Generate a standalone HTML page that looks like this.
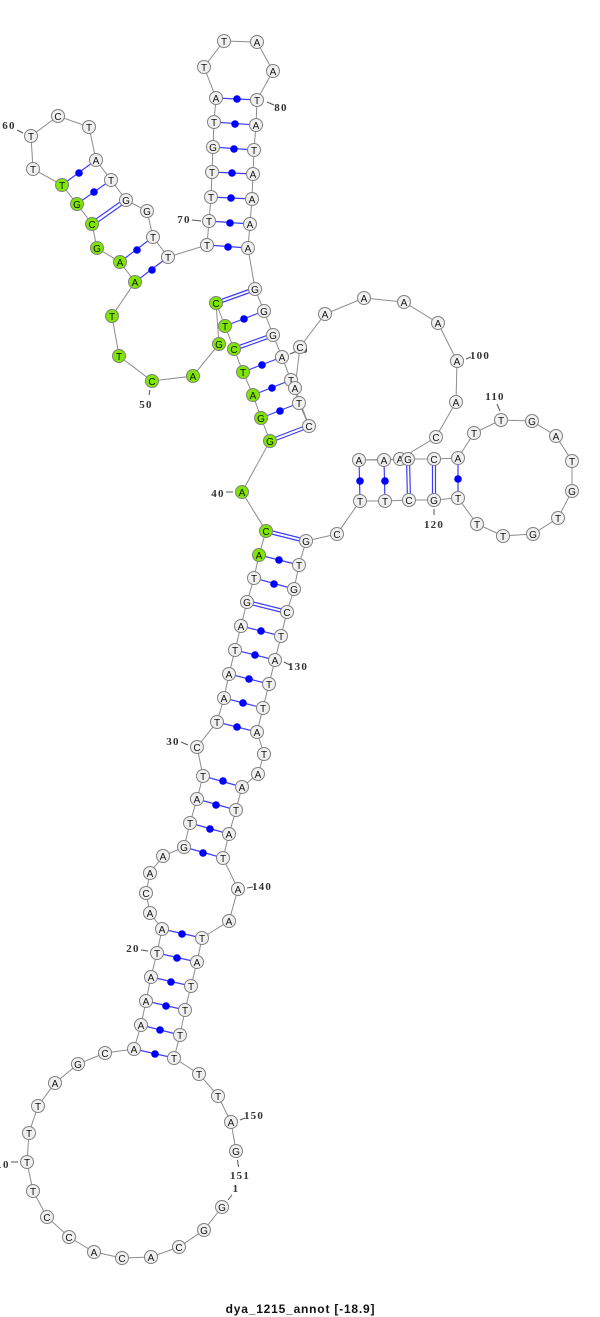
<!DOCTYPE html>
<html><head><meta charset="utf-8"><style>
html,body{margin:0;padding:0;background:#fff}
svg{display:block}
.b{fill:none;stroke:#8c8c8c;stroke-width:1}
.p{stroke:#3d3dff;stroke-width:1.2;fill:none}
.d{fill:#0000ff}
.n circle{fill:#f0f0f0;stroke:#808080;stroke-width:1}
.n circle.g{fill:#7fe600}
.n text{font:10px "Liberation Sans",sans-serif;text-anchor:middle;fill:#111}
.l text{font:bold 11px "Liberation Serif",serif;letter-spacing:1.2px;text-anchor:middle;fill:#333}
.t{stroke:#555;stroke-width:1}
.title{font:bold 12px "Liberation Sans",sans-serif;text-anchor:middle;fill:#111;letter-spacing:.8px}
</style></head><body>
<svg width="600" height="1317" viewBox="0 0 600 1317" xmlns="http://www.w3.org/2000/svg">
<polyline class="b" points="222,1207 204,1230 179,1247 151,1257 122,1258 94,1252 69,1237 47,1217 33,1191 27,1162 29,1133 38,1106 55,1083 78,1064 105,1053 134,1049 141,1025 146,1001 151,977 157,953 162,929 150,913 146,893 150,873 163,856 184,847 190,823 197,799 203,776 197,747 217,722 224,698 229,674 235,650 241,626 247,602 254,578 259,555 266,531 242,492 270,441 261,418 253,395 243,372 234,349 225,326 216,303 219,344 193,376 152,381 119,356 112,316 135,282 120,262 97,248 92,224 77,204 62,185 33,169 31,136 58,116 89,127 96,160 111,180 126,200 147,211 153,237 168,257 207,245 209,221 211,197 212,172 213,147 214,122 216,98 204,67 224,41 257,42 273,71 257,100 256,125 254,150 253,174 252,199 250,224 248,248 255,289 264,311 273,335 282,357 291,380 299,403 309,426 295,388 300,347 325,314 364,298 404,302 438,323 457,361 456,402 436,437 400,459 359,460 384,460 408,459 434,459 458,458 474,433 501,420 532,421 556,436 572,461 572,491 558,518 533,534 503,536 477,524 458,498 434,500 409,500 385,501 360,501 337,534 306,541 299,565 294,589 287,612 281,636 275,660 269,684 263,708 257,732 264,754 258,774 242,787 236,810 229,834 223,858 238,889 229,921 202,938 197,962 191,986 185,1010 180,1035 174,1058 199,1074 218,1096 231,1122 236,1151"/>
<g class="p">
<path d="M134,1049L174,1058M141,1025L180,1035M146,1001L185,1010M151,977L191,986M157,953L197,962M162,929L202,938M184,847L223,858M190,823L229,834M197,799L236,810M203,776L242,787M217,722L257,732M224,698L263,708M229,674L269,684M235,650L275,660M241,626L281,636M254,578L294,589M259,555L299,565"/>
<path d="M247.5,600.5L287.5,610.5M246.5,603.5L286.5,613.5M266.5,529.5L306.5,539.5M265.5,532.5L305.5,542.5"/>
<path d="M261,418L299,403M253,395L291,380M243,372L282,357M225,326L264,311"/>
<path d="M269.5,439.5L308.5,424.5M270.5,442.5L309.5,427.5M233.5,347.5L272.5,333.5M234.5,350.5L273.5,336.5M215.5,301.5L254.5,287.5M216.5,304.5L255.5,290.5"/>
<path d="M135,282L168,257M120,262L153,237M77,204L111,180M62,185L96,160"/>
<path d="M91,222.5L125,198.5M93,225.5L127,201.5"/>
<path d="M207,245L248,248M209,221L250,224M211,197L252,199M212,172L253,174M213,147L254,150M214,122L256,125M216,98L257,100"/>
<path d="M359,460L360,501M384,460L385,501M458,458L458,498"/>
<path d="M406.5,459L407.5,500M409.5,459L410.5,500M432.5,459L432.5,500M435.5,459L435.5,500"/>
</g>
<g class="d">
<circle cx="155" cy="1054" r="3.8"/><circle cx="160" cy="1030" r="3.8"/><circle cx="166" cy="1006" r="3.8"/><circle cx="171" cy="982" r="3.8"/><circle cx="177" cy="958" r="3.8"/><circle cx="182" cy="934" r="3.8"/>
<circle cx="203" cy="853" r="3.8"/><circle cx="210" cy="829" r="3.8"/><circle cx="216" cy="805" r="3.8"/><circle cx="223" cy="781" r="3.8"/>
<circle cx="237" cy="727" r="3.8"/><circle cx="243" cy="703" r="3.8"/><circle cx="249" cy="679" r="3.8"/><circle cx="255" cy="655" r="3.8"/><circle cx="261" cy="631" r="3.8"/><circle cx="274" cy="584" r="3.8"/><circle cx="279" cy="560" r="3.8"/>
<circle cx="280" cy="411" r="3.8"/><circle cx="272" cy="388" r="3.8"/><circle cx="262" cy="365" r="3.8"/><circle cx="244" cy="319" r="3.8"/>
<circle cx="152" cy="270" r="3.8"/><circle cx="137" cy="250" r="3.8"/><circle cx="94" cy="192" r="3.8"/><circle cx="79" cy="173" r="3.8"/>
<circle cx="228" cy="247" r="3.8"/><circle cx="230" cy="223" r="3.8"/><circle cx="231" cy="198" r="3.8"/><circle cx="232" cy="173" r="3.8"/><circle cx="234" cy="149" r="3.8"/><circle cx="235" cy="124" r="3.8"/><circle cx="237" cy="99" r="3.8"/>
<circle cx="360" cy="481" r="3.8"/><circle cx="385" cy="481" r="3.8"/><circle cx="458" cy="479" r="3.8"/>
</g>
<g class="l">
<path class="t" d="M17,130L23,133M192,220L201,221M267,102L274,105M290,354L297,351M466,359L471,357M497,404L500,411M434,509L434,515M284,662L290,665M247,888L253,887M240,1120L245,1118M237.5,1160L238.5,1167M232,1195L228,1200M150,390L149,395M226,492L233,492M181,742L188,745M141,950L148,951M11,1162L18,1162"/>
<text x="9" y="129">60</text><text x="184" y="223">70</text><text x="281" y="111">80</text><text x="302" y="353">90</text><text x="480" y="359">100</text><text x="495" y="400">110</text><text x="434" y="528">120</text><text x="298" y="670">130</text><text x="262" y="890">140</text><text x="254" y="1119">150</text><text x="240" y="1179">151</text><text x="236" y="1192">1</text><text x="146" y="408">50</text><text x="218" y="497">40</text><text x="173" y="745">30</text><text x="133" y="952">20</text><text x="3" y="1168">10</text>
</g>
<g class="n">
<circle cx="222" cy="1207" r="6.5"/><text x="222" y="1211">G</text>
<circle cx="204" cy="1230" r="6.5"/><text x="204" y="1234">G</text>
<circle cx="179" cy="1247" r="6.5"/><text x="179" y="1251">C</text>
<circle cx="151" cy="1257" r="6.5"/><text x="151" y="1261">A</text>
<circle cx="122" cy="1258" r="6.5"/><text x="122" y="1262">C</text>
<circle cx="94" cy="1252" r="6.5"/><text x="94" y="1256">A</text>
<circle cx="69" cy="1237" r="6.5"/><text x="69" y="1241">C</text>
<circle cx="47" cy="1217" r="6.5"/><text x="47" y="1221">C</text>
<circle cx="33" cy="1191" r="6.5"/><text x="33" y="1195">T</text>
<circle cx="27" cy="1162" r="6.5"/><text x="27" y="1166">T</text>
<circle cx="29" cy="1133" r="6.5"/><text x="29" y="1137">T</text>
<circle cx="38" cy="1106" r="6.5"/><text x="38" y="1110">T</text>
<circle cx="55" cy="1083" r="6.5"/><text x="55" y="1087">A</text>
<circle cx="78" cy="1064" r="6.5"/><text x="78" y="1068">G</text>
<circle cx="105" cy="1053" r="6.5"/><text x="105" y="1057">C</text>
<circle cx="134" cy="1049" r="6.5"/><text x="134" y="1053">A</text>
<circle cx="141" cy="1025" r="6.5"/><text x="141" y="1029">A</text>
<circle cx="146" cy="1001" r="6.5"/><text x="146" y="1005">A</text>
<circle cx="151" cy="977" r="6.5"/><text x="151" y="981">A</text>
<circle cx="157" cy="953" r="6.5"/><text x="157" y="957">T</text>
<circle cx="162" cy="929" r="6.5"/><text x="162" y="933">A</text>
<circle cx="150" cy="913" r="6.5"/><text x="150" y="917">A</text>
<circle cx="146" cy="893" r="6.5"/><text x="146" y="897">C</text>
<circle cx="150" cy="873" r="6.5"/><text x="150" y="877">A</text>
<circle cx="163" cy="856" r="6.5"/><text x="163" y="860">A</text>
<circle cx="184" cy="847" r="6.5"/><text x="184" y="851">G</text>
<circle cx="190" cy="823" r="6.5"/><text x="190" y="827">T</text>
<circle cx="197" cy="799" r="6.5"/><text x="197" y="803">A</text>
<circle cx="203" cy="776" r="6.5"/><text x="203" y="780">T</text>
<circle cx="197" cy="747" r="6.5"/><text x="197" y="751">C</text>
<circle cx="217" cy="722" r="6.5"/><text x="217" y="726">T</text>
<circle cx="224" cy="698" r="6.5"/><text x="224" y="702">A</text>
<circle cx="229" cy="674" r="6.5"/><text x="229" y="678">A</text>
<circle cx="235" cy="650" r="6.5"/><text x="235" y="654">T</text>
<circle cx="241" cy="626" r="6.5"/><text x="241" y="630">A</text>
<circle cx="247" cy="602" r="6.5"/><text x="247" y="606">G</text>
<circle cx="254" cy="578" r="6.5"/><text x="254" y="582">T</text>
<circle class="g" cx="259" cy="555" r="6.5"/><text x="259" y="559">A</text>
<circle class="g" cx="266" cy="531" r="6.5"/><text x="266" y="535">C</text>
<circle class="g" cx="242" cy="492" r="6.5"/><text x="242" y="496">A</text>
<circle class="g" cx="270" cy="441" r="6.5"/><text x="270" y="445">G</text>
<circle class="g" cx="261" cy="418" r="6.5"/><text x="261" y="422">G</text>
<circle class="g" cx="253" cy="395" r="6.5"/><text x="253" y="399">A</text>
<circle class="g" cx="243" cy="372" r="6.5"/><text x="243" y="376">T</text>
<circle class="g" cx="234" cy="349" r="6.5"/><text x="234" y="353">C</text>
<circle class="g" cx="225" cy="326" r="6.5"/><text x="225" y="330">T</text>
<circle class="g" cx="216" cy="303" r="6.5"/><text x="216" y="307">C</text>
<circle class="g" cx="219" cy="344" r="6.5"/><text x="219" y="348">G</text>
<circle class="g" cx="193" cy="376" r="6.5"/><text x="193" y="380">A</text>
<circle class="g" cx="152" cy="381" r="6.5"/><text x="152" y="385">C</text>
<circle class="g" cx="119" cy="356" r="6.5"/><text x="119" y="360">T</text>
<circle class="g" cx="112" cy="316" r="6.5"/><text x="112" y="320">T</text>
<circle class="g" cx="135" cy="282" r="6.5"/><text x="135" y="286">A</text>
<circle class="g" cx="120" cy="262" r="6.5"/><text x="120" y="266">A</text>
<circle class="g" cx="97" cy="248" r="6.5"/><text x="97" y="252">G</text>
<circle class="g" cx="92" cy="224" r="6.5"/><text x="92" y="228">C</text>
<circle class="g" cx="77" cy="204" r="6.5"/><text x="77" y="208">G</text>
<circle class="g" cx="62" cy="185" r="6.5"/><text x="62" y="189">T</text>
<circle cx="33" cy="169" r="6.5"/><text x="33" y="173">T</text>
<circle cx="31" cy="136" r="6.5"/><text x="31" y="140">T</text>
<circle cx="58" cy="116" r="6.5"/><text x="58" y="120">C</text>
<circle cx="89" cy="127" r="6.5"/><text x="89" y="131">T</text>
<circle cx="96" cy="160" r="6.5"/><text x="96" y="164">A</text>
<circle cx="111" cy="180" r="6.5"/><text x="111" y="184">T</text>
<circle cx="126" cy="200" r="6.5"/><text x="126" y="204">G</text>
<circle cx="147" cy="211" r="6.5"/><text x="147" y="215">G</text>
<circle cx="153" cy="237" r="6.5"/><text x="153" y="241">T</text>
<circle cx="168" cy="257" r="6.5"/><text x="168" y="261">T</text>
<circle cx="207" cy="245" r="6.5"/><text x="207" y="249">T</text>
<circle cx="209" cy="221" r="6.5"/><text x="209" y="225">T</text>
<circle cx="211" cy="197" r="6.5"/><text x="211" y="201">T</text>
<circle cx="212" cy="172" r="6.5"/><text x="212" y="176">T</text>
<circle cx="213" cy="147" r="6.5"/><text x="213" y="151">G</text>
<circle cx="214" cy="122" r="6.5"/><text x="214" y="126">T</text>
<circle cx="216" cy="98" r="6.5"/><text x="216" y="102">A</text>
<circle cx="204" cy="67" r="6.5"/><text x="204" y="71">T</text>
<circle cx="224" cy="41" r="6.5"/><text x="224" y="45">T</text>
<circle cx="257" cy="42" r="6.5"/><text x="257" y="46">A</text>
<circle cx="273" cy="71" r="6.5"/><text x="273" y="75">A</text>
<circle cx="257" cy="100" r="6.5"/><text x="257" y="104">T</text>
<circle cx="256" cy="125" r="6.5"/><text x="256" y="129">A</text>
<circle cx="254" cy="150" r="6.5"/><text x="254" y="154">T</text>
<circle cx="253" cy="174" r="6.5"/><text x="253" y="178">A</text>
<circle cx="252" cy="199" r="6.5"/><text x="252" y="203">A</text>
<circle cx="250" cy="224" r="6.5"/><text x="250" y="228">A</text>
<circle cx="248" cy="248" r="6.5"/><text x="248" y="252">A</text>
<circle cx="255" cy="289" r="6.5"/><text x="255" y="293">G</text>
<circle cx="264" cy="311" r="6.5"/><text x="264" y="315">G</text>
<circle cx="273" cy="335" r="6.5"/><text x="273" y="339">G</text>
<circle cx="282" cy="357" r="6.5"/><text x="282" y="361">A</text>
<circle cx="291" cy="380" r="6.5"/><text x="291" y="384">T</text>
<circle cx="299" cy="403" r="6.5"/><text x="299" y="407">T</text>
<circle cx="309" cy="426" r="6.5"/><text x="309" y="430">C</text>
<circle cx="295" cy="388" r="6.5"/><text x="295" y="392">A</text>
<circle cx="300" cy="347" r="6.5"/><text x="300" y="351">C</text>
<circle cx="325" cy="314" r="6.5"/><text x="325" y="318">A</text>
<circle cx="364" cy="298" r="6.5"/><text x="364" y="302">A</text>
<circle cx="404" cy="302" r="6.5"/><text x="404" y="306">A</text>
<circle cx="438" cy="323" r="6.5"/><text x="438" y="327">A</text>
<circle cx="457" cy="361" r="6.5"/><text x="457" y="365">A</text>
<circle cx="456" cy="402" r="6.5"/><text x="456" y="406">A</text>
<circle cx="436" cy="437" r="6.5"/><text x="436" y="441">C</text>
<circle cx="400" cy="459" r="6.5"/><text x="400" y="463">A</text>
<circle cx="359" cy="460" r="6.5"/><text x="359" y="464">A</text>
<circle cx="384" cy="460" r="6.5"/><text x="384" y="464">A</text>
<circle cx="408" cy="459" r="6.5"/><text x="408" y="463">G</text>
<circle cx="434" cy="459" r="6.5"/><text x="434" y="463">C</text>
<circle cx="458" cy="458" r="6.5"/><text x="458" y="462">A</text>
<circle cx="474" cy="433" r="6.5"/><text x="474" y="437">T</text>
<circle cx="501" cy="420" r="6.5"/><text x="501" y="424">T</text>
<circle cx="532" cy="421" r="6.5"/><text x="532" y="425">G</text>
<circle cx="556" cy="436" r="6.5"/><text x="556" y="440">A</text>
<circle cx="572" cy="461" r="6.5"/><text x="572" y="465">T</text>
<circle cx="572" cy="491" r="6.5"/><text x="572" y="495">G</text>
<circle cx="558" cy="518" r="6.5"/><text x="558" y="522">T</text>
<circle cx="533" cy="534" r="6.5"/><text x="533" y="538">G</text>
<circle cx="503" cy="536" r="6.5"/><text x="503" y="540">T</text>
<circle cx="477" cy="524" r="6.5"/><text x="477" y="528">T</text>
<circle cx="458" cy="498" r="6.5"/><text x="458" y="502">T</text>
<circle cx="434" cy="500" r="6.5"/><text x="434" y="504">G</text>
<circle cx="409" cy="500" r="6.5"/><text x="409" y="504">C</text>
<circle cx="385" cy="501" r="6.5"/><text x="385" y="505">T</text>
<circle cx="360" cy="501" r="6.5"/><text x="360" y="505">T</text>
<circle cx="337" cy="534" r="6.5"/><text x="337" y="538">C</text>
<circle cx="306" cy="541" r="6.5"/><text x="306" y="545">G</text>
<circle cx="299" cy="565" r="6.5"/><text x="299" y="569">T</text>
<circle cx="294" cy="589" r="6.5"/><text x="294" y="593">G</text>
<circle cx="287" cy="612" r="6.5"/><text x="287" y="616">C</text>
<circle cx="281" cy="636" r="6.5"/><text x="281" y="640">T</text>
<circle cx="275" cy="660" r="6.5"/><text x="275" y="664">A</text>
<circle cx="269" cy="684" r="6.5"/><text x="269" y="688">T</text>
<circle cx="263" cy="708" r="6.5"/><text x="263" y="712">T</text>
<circle cx="257" cy="732" r="6.5"/><text x="257" y="736">A</text>
<circle cx="264" cy="754" r="6.5"/><text x="264" y="758">T</text>
<circle cx="258" cy="774" r="6.5"/><text x="258" y="778">A</text>
<circle cx="242" cy="787" r="6.5"/><text x="242" y="791">A</text>
<circle cx="236" cy="810" r="6.5"/><text x="236" y="814">T</text>
<circle cx="229" cy="834" r="6.5"/><text x="229" y="838">A</text>
<circle cx="223" cy="858" r="6.5"/><text x="223" y="862">T</text>
<circle cx="238" cy="889" r="6.5"/><text x="238" y="893">A</text>
<circle cx="229" cy="921" r="6.5"/><text x="229" y="925">A</text>
<circle cx="202" cy="938" r="6.5"/><text x="202" y="942">T</text>
<circle cx="197" cy="962" r="6.5"/><text x="197" y="966">A</text>
<circle cx="191" cy="986" r="6.5"/><text x="191" y="990">T</text>
<circle cx="185" cy="1010" r="6.5"/><text x="185" y="1014">T</text>
<circle cx="180" cy="1035" r="6.5"/><text x="180" y="1039">T</text>
<circle cx="174" cy="1058" r="6.5"/><text x="174" y="1062">T</text>
<circle cx="199" cy="1074" r="6.5"/><text x="199" y="1078">T</text>
<circle cx="218" cy="1096" r="6.5"/><text x="218" y="1100">T</text>
<circle cx="231" cy="1122" r="6.5"/><text x="231" y="1126">A</text>
<circle cx="236" cy="1151" r="6.5"/><text x="236" y="1155">G</text>
</g>
<text class="title" x="300.5" y="1313">dya_1215_annot [-18.9]</text>
</svg>
</body></html>
